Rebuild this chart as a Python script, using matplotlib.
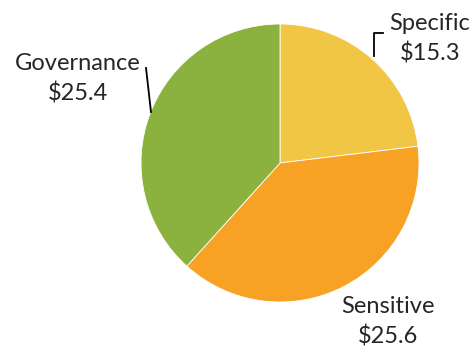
import matplotlib
matplotlib.use('Agg')
from matplotlib import pyplot as plt

labels = ['Specific', 'Sensitive', 'Governance']
values = [15.3, 25.6, 25.4]
colors = ['#F0C644', '#F7A125', '#8BB13F']

W, H = 473, 347
fig = plt.figure(figsize=(W / 100, H / 100), dpi=100)
ax = fig.add_axes([0, 0, 1, 1])

cx, cy, r = 280, H - 163, 139
ax.pie(values, colors=colors, startangle=90, counterclock=False,
       center=(cx, cy), radius=r, frame=True,
       wedgeprops=dict(edgecolor='white', linewidth=0.6))
ax.set_xlim(0, W)
ax.set_ylim(0, H)
ax.set_aspect('equal')
ax.axis('off')

tc = '#262626'
fs = 17
font = 'Lato'
# label positions (centre of text block)
pos = {'Specific': (430, H - 39), 'Sensitive': (388, H - 322), 'Governance': (78, H - 79)}
for lab, val in zip(labels, values):
    x, y = pos[lab]
    ax.text(x, y, f'{lab}\n${val}', ha='center', va='center', fontsize=fs,
            color=tc, family=font, linespacing=1.45)

# leader lines
ax.plot([383, 374, 374], [H - 33, H - 33, H - 56], color='black', lw=1.3)
ax.plot([146, 151], [H - 68, H - 112], color='black', lw=1.3)

fig.savefig('out.png', dpi=100)
